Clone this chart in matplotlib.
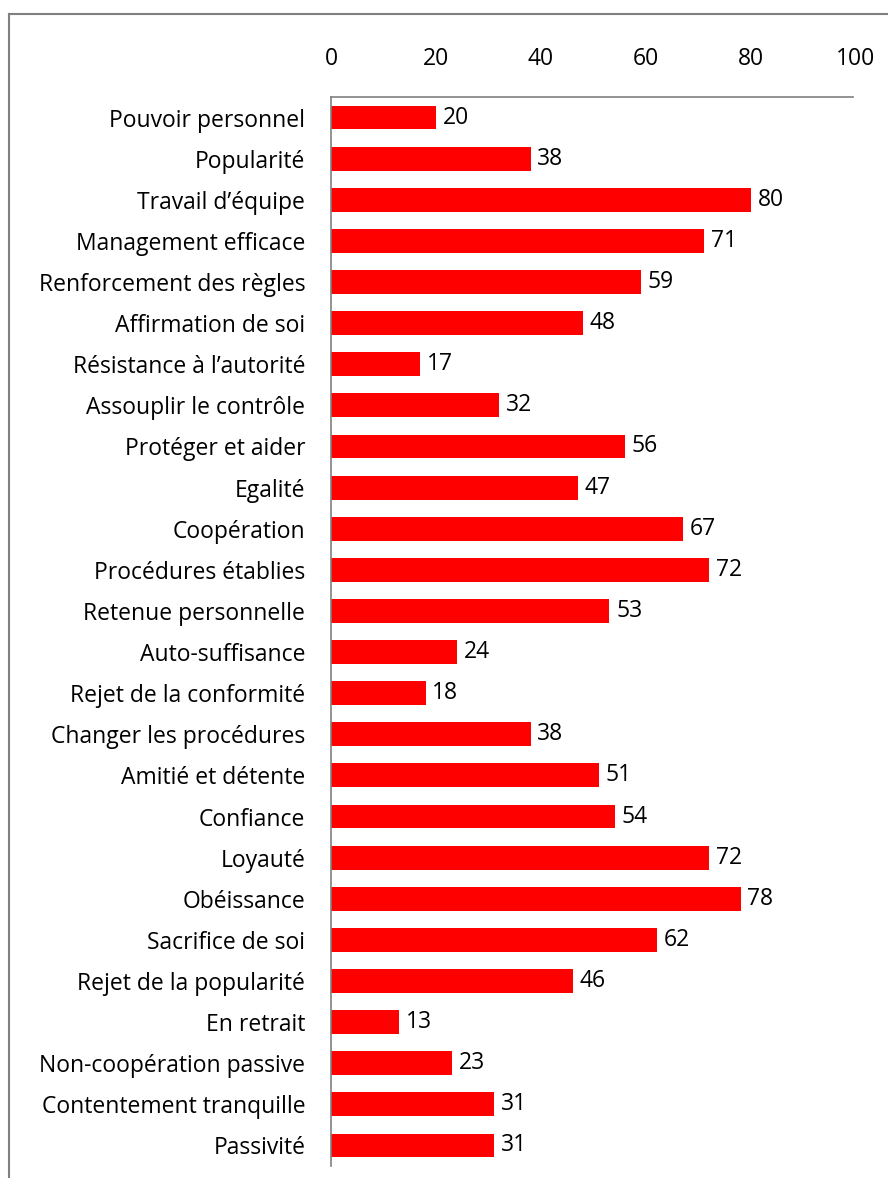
import matplotlib
matplotlib.use("Agg")
import matplotlib.pyplot as plt

categories = [
    "Pouvoir personnel", "Popularité", "Travail d’équipe", "Management efficace",
    "Renforcement des règles", "Affirmation de soi", "Résistance à l’autorité",
    "Assouplir le contrôle", "Protéger et aider", "Egalité", "Coopération",
    "Procédures établies", "Retenue personnelle", "Auto-suffisance",
    "Rejet de la conformité", "Changer les procédures", "Amitié et détente",
    "Confiance", "Loyauté", "Obéissance", "Sacrifice de soi",
    "Rejet de la popularité", "En retrait", "Non-coopération passive",
    "Contentement tranquille", "Passivité",
]
values = [20, 38, 80, 71, 59, 48, 17, 32, 56, 47, 67, 72, 53, 24, 18, 38, 51,
          54, 72, 78, 62, 46, 13, 23, 31, 31]
x_ticks = [0, 20, 40, 60, 80, 100]

plt.rcParams["font.family"] = ["Open Sans", "DejaVu Sans"]
FS = 16.5

W, H = 888, 1178
fig = plt.figure(figsize=(W / 100, H / 100), dpi=100)

# outer frame (left and top edges visible)
frame_color = "#808080"
fig.add_artist(plt.Line2D([9 / W, 9 / W], [0, 1 - 14 / H], transform=fig.transFigure,
                          color=frame_color, lw=1.5))
fig.add_artist(plt.Line2D([9 / W, 1], [1 - 14 / H, 1 - 14 / H], transform=fig.transFigure,
                          color=frame_color, lw=1.5))

left, right, top, bottom = 331, 856, 97, 1166
ax = fig.add_axes([left / W, 1 - bottom / H, (right - left) / W, (bottom - top) / H])

pos = list(range(len(categories)))
ax.barh(pos, values, height=0.58, color="#FF0000")
for p, v in zip(pos, values):
    ax.text(v + 1.3, p, str(v), va="center", ha="left", fontsize=FS)

ax.set_xlim(0, 100)
ax.set_ylim(len(categories) - 0.5, -0.5)
ax.set_yticks(pos)
ax.set_yticklabels(categories, fontsize=FS)
ax.set_xticks(x_ticks)
ax.set_xticklabels([str(t) for t in x_ticks], fontsize=FS)
ax.xaxis.tick_top()
ax.tick_params(axis="both", length=0)
ax.tick_params(axis="y", pad=18.5)
ax.tick_params(axis="x", pad=18.5)

for s in ["right", "bottom"]:
    ax.spines[s].set_visible(False)
for s in ["left", "top"]:
    ax.spines[s].set_color(frame_color)
    ax.spines[s].set_linewidth(1.2)
ax.spines["top"].set_bounds(0, 99.4)

fig.savefig("out.png", dpi=100)
